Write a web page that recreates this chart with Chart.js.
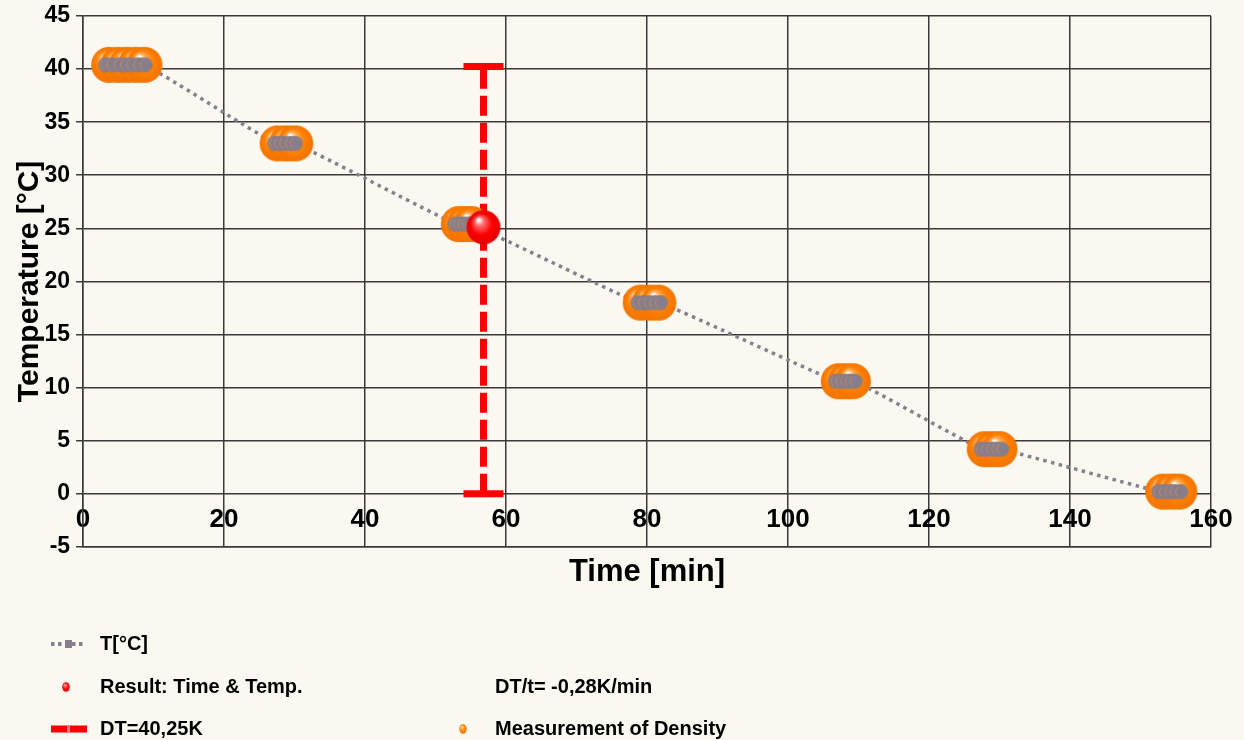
<!DOCTYPE html>
<html>
<head>
<meta charset="utf-8">
<script src="https://cdn.jsdelivr.net/npm/chart.js@4.4.1/dist/chart.umd.min.js"></script>
<style>
  html, body { margin: 0; padding: 0; background: #faf9f1; }
  #wrap { width: 1244px; height: 740px; position: relative; }
  canvas { display: block; }
</style>
</head>
<body>
<div id="wrap"><canvas id="chart" width="1244" height="740"></canvas></div>
<script>
// Cooling curve: temperature readings over time
const tTime = [3.2, 4.1, 5.1, 6.0, 6.9, 7.9, 8.8,
               27.2, 27.9, 28.6, 29.4, 30.1,
               52.8, 53.3, 53.9, 54.5, 55.0,
               78.7, 79.5, 80.3, 81.1, 81.9,
               106.8, 107.5, 108.2, 108.8, 109.5,
               127.4, 128.1, 128.9, 129.6, 130.3,
               152.6, 153.4, 154.2, 154.9, 155.7];
const tTemp = [40.4, 40.4, 40.4, 40.4, 40.4, 40.4, 40.4,
               33.0, 33.0, 33.0, 33.0, 33.0,
               25.4, 25.4, 25.4, 25.4, 25.4,
               18.0, 18.0, 18.0, 18.0, 18.0,
               10.6, 10.6, 10.6, 10.6, 10.6,
               4.2, 4.2, 4.2, 4.2, 4.2,
               0.2, 0.2, 0.2, 0.2, 0.2];

// Density measurements taken at the same moments
const densityTime = [3.7, 5.0, 6.2, 7.5, 8.7,
                     27.6, 28.9, 30.1,
                     53.3, 54.2, 55.1,
                     79.1, 80.4, 81.6,
                     107.2, 108.2, 109.2,
                     127.9, 129.0, 130.0,
                     153.2, 154.4, 155.5];
const densityTemp = [40.4, 40.4, 40.4, 40.4, 40.4,
                     33.0, 33.0, 33.0,
                     25.4, 25.4, 25.4,
                     18.0, 18.0, 18.0,
                     10.6, 10.6, 10.6,
                     4.2, 4.2, 4.2,
                     0.2, 0.2, 0.2];

// Evaluated result and total temperature drop
const resultTime = [56.8];
const resultTemp = [25.1];
const dtTime = [56.8, 56.8];
const dtTemp = [0, 40.25];

const xTicks = [0, 20, 40, 60, 80, 100, 120, 140, 160];
const yTicks = [-5, 0, 5, 10, 15, 20, 25, 30, 35, 40, 45];

const labelT = 'T[°C]';
const labelResult = 'Result: Time & Temp.';
const labelDT = 'DT=40,25K';
const labelDensity = 'Measurement of Density';
const labelSlope = 'DT/t= -0,28K/min';

const pts = (xs, ys) => xs.map((x, i) => ({ x, y: ys[i] }));

// Shiny round marker rendered once and reused as a point style
function sphere(r, light, base, dark) {
  const c = document.createElement('canvas');
  const s = Math.ceil(r * 2 + 2);
  c.width = s; c.height = s;
  const g = c.getContext('2d');
  const cx = s / 2, cy = s / 2;
  const grad = g.createRadialGradient(cx - r * 0.3, cy - r * 0.45, r * 0.05, cx, cy, r);
  grad.addColorStop(0, '#ffffff');
  grad.addColorStop(0.22, light);
  grad.addColorStop(0.6, base);
  grad.addColorStop(1, dark);
  g.fillStyle = grad;
  g.beginPath(); g.arc(cx, cy, r, 0, Math.PI * 2); g.fill();
  return c;
}
function disc(r, fill, ring) {
  const c = document.createElement('canvas');
  const s = Math.ceil(r * 2 + 2);
  c.width = s; c.height = s;
  const g = c.getContext('2d');
  g.fillStyle = fill;
  g.beginPath(); g.arc(s / 2, s / 2, r, 0, Math.PI * 2); g.fill();
  g.strokeStyle = ring; g.lineWidth = 1;
  g.beginPath(); g.arc(s / 2, s / 2, r - 2.5, Math.PI * 0.65, Math.PI * 1.35); g.stroke();
  return c;
}

const orangeBall = sphere(18, '#ffb060', '#ff8000', '#f27400');
const redBall = sphere(17, '#ff7070', '#ff0000', '#e00000');
const grayDot = disc(7.5, '#877e8b', 'rgba(240,150,60,0.55)');

const GRID = '#3a3a3a';
const tColor = '#877f8c';

const background = {
  id: 'background',
  beforeDraw(chart) {
    const { ctx } = chart;
    ctx.save();
    ctx.fillStyle = '#faf9f1';
    ctx.fillRect(0, 0, chart.width, chart.height);
    ctx.restore();
  }
};

// Two-column legend below the plot
const legendBlock = {
  id: 'legendBlock',
  afterDraw(chart) {
    const { ctx } = chart;
    const ds = chart.data.datasets;
    ctx.save();
    ctx.font = 'bold 20px "Liberation Sans", Arial, sans-serif';
    ctx.fillStyle = '#000';
    ctx.textBaseline = 'middle';
    ctx.textAlign = 'left';

    // row 1: temperature line
    let y = 644;
    ctx.strokeStyle = ds[0].borderColor;
    ctx.lineWidth = 4;
    ctx.setLineDash([3.5, 3.5]);
    ctx.beginPath(); ctx.moveTo(51, y); ctx.lineTo(86, y); ctx.stroke();
    ctx.setLineDash([]);
    ctx.fillStyle = tColor;
    ctx.fillRect(65, y - 4, 7, 8);
    ctx.fillStyle = '#000';
    ctx.fillText(ds[0].label, 100, y);

    // row 2: result point + slope note
    y = 687;
    const rg = ctx.createRadialGradient(65, y - 2, 0.5, 66, y, 5);
    rg.addColorStop(0, '#ff9090'); rg.addColorStop(0.5, '#ff1010'); rg.addColorStop(1, '#e00000');
    ctx.fillStyle = rg;
    ctx.beginPath(); ctx.ellipse(66, y, 3.8, 4.8, 0, 0, Math.PI * 2); ctx.fill();
    ctx.fillStyle = '#000';
    ctx.fillText(ds[4].label, 100, y);
    ctx.fillText(labelSlope, 495, y);

    // row 3: temperature drop bar + density points
    y = 729;
    ctx.fillStyle = ds[1].borderColor;
    ctx.fillRect(51, y - 3.5, 36, 7);
    ctx.fillStyle = '#ff8080';
    ctx.fillRect(67, y - 3.5, 3, 7);
    ctx.fillStyle = '#000';
    ctx.fillText(ds[1].label, 100, y);
    const og = ctx.createRadialGradient(462, y - 2, 0.5, 463, y, 5);
    og.addColorStop(0, '#ffd0a0'); og.addColorStop(0.5, '#ff8a10'); og.addColorStop(1, '#f07000');
    ctx.fillStyle = og;
    ctx.beginPath(); ctx.ellipse(463, y, 3.8, 4.8, 0, 0, Math.PI * 2); ctx.fill();
    ctx.fillStyle = '#000';
    ctx.fillText(ds[2].label, 495, y);
    ctx.restore();
  }
};

new Chart(document.getElementById('chart'), {
  type: 'scatter',
  data: {
    datasets: [
      {
        label: labelT,
        data: pts(tTime, tTemp),
        showLine: true,
        borderColor: tColor,
        borderWidth: 3.5,
        borderDash: [3.5, 4.5],
        tension: 0.4,
        pointRadius: 0,
        order: 6
      },
      {
        label: labelDT,
        data: pts(dtTime, dtTemp),
        showLine: true,
        borderColor: '#ff0000',
        borderWidth: 7,
        borderDash: [20, 7],
        pointStyle: 'line',
        pointRadius: 20,
        pointBorderWidth: 7,
        pointBorderColor: '#ff0000',
        order: 5
      },
      {
        label: labelDensity,
        data: pts(densityTime, densityTemp),
        pointStyle: orangeBall,
        pointRadius: 18,
        order: 4
      },
      {
        label: labelT,
        data: pts(tTime, tTemp),
        pointStyle: grayDot,
        pointRadius: 7.5,
        order: 3
      },
      {
        label: labelResult,
        data: pts(resultTime, resultTemp),
        pointStyle: redBall,
        pointRadius: 17,
        order: 1
      }
    ]
  },
  options: {
    responsive: false,
    animation: false,
    events: [],
    layout: { autoPadding: false, padding: { top: 16, right: 33, bottom: 149, left: 5.5 } },
    plugins: {
      legend: { display: false },
      tooltip: { enabled: false }
    },
    scales: {
      x: {
        type: 'linear',
        position: 'bottom',
        min: xTicks[0],
        max: xTicks[xTicks.length - 1],
        afterBuildTicks: s => { s.ticks = xTicks.map(v => ({ value: v })); },
        grid: { color: GRID, lineWidth: 1.5, drawTicks: false },
        border: { color: GRID, width: 1.5 },
        ticks: {
          color: '#000',
          padding: 11,
          mirror: true,
          maxRotation: 0,
          font: { family: '"Liberation Sans", Arial, sans-serif', size: 26, weight: 'bold' }
        },
        title: {
          display: true,
          text: 'Time [min]',
          color: '#000',
          padding: { top: -15, bottom: 0 },
          font: { family: '"Liberation Sans", Arial, sans-serif', size: 31, weight: 'bold' }
        }
      },
      y: {
        type: 'linear',
        position: 'left',
        min: yTicks[0],
        max: yTicks[yTicks.length - 1],
        afterBuildTicks: s => { s.ticks = yTicks.map(v => ({ value: v })); },
        grid: { color: GRID, lineWidth: 1.5, tickLength: 7 },
        border: { color: GRID, width: 1.5 },
        ticks: {
          color: '#000',
          padding: 6,
          font: { family: '"Liberation Sans", Arial, sans-serif', size: 23, weight: 'bold', lineHeight: 0.3 }
        },
        title: {
          display: true,
          text: 'Temperature [°C]',
          color: '#000',
          padding: { top: 9, bottom: -6 },
          font: { family: '"Liberation Sans", Arial, sans-serif', size: 30, weight: 'bold', lineHeight: 1 }
        }
      }
    }
  },
  plugins: [background, legendBlock]
});
</script>
</body>
</html>
